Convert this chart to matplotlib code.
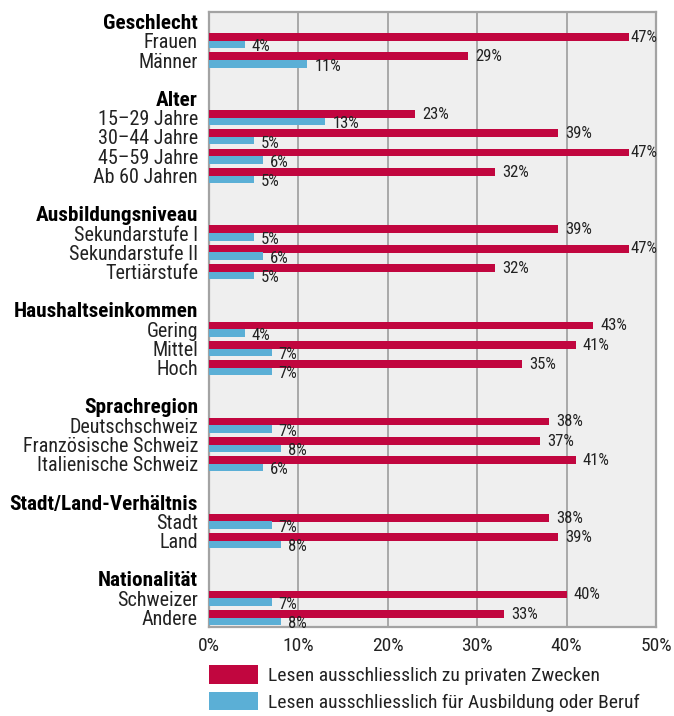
import matplotlib.pyplot as plt
from matplotlib.patches import Patch

groups = ["Geschlecht", "Alter", "Ausbildungsniveau", "Haushaltseinkommen",
          "Sprachregion", "Stadt/Land-Verhältnis", "Nationalität"]
categories = [
    ["Frauen", "Männer"],
    ["15–29 Jahre", "30–44 Jahre", "45–59 Jahre", "Ab 60 Jahren"],
    ["Sekundarstufe I", "Sekundarstufe II", "Tertiärstufe"],
    ["Gering", "Mittel", "Hoch"],
    ["Deutschschweiz", "Französische Schweiz", "Italienische Schweiz"],
    ["Stadt", "Land"],
    ["Schweizer", "Andere"],
]
privat = [
    [47, 29],
    [23, 39, 47, 32],
    [39, 47, 32],
    [43, 41, 35],
    [38, 37, 41],
    [38, 39],
    [40, 33],
]
beruf = [
    [4, 11],
    [13, 5, 6, 5],
    [5, 6, 5],
    [4, 7, 7],
    [7, 8, 6],
    [7, 8],
    [7, 8],
]
series_names = ["Lesen ausschliesslich zu privaten Zwecken",
                "Lesen ausschliesslich für Ausbildung oder Beruf"]
xticks = [0, 10, 20, 30, 40, 50]

RED = "#C1063F"
BLUE = "#5BAFD6"
BG = "#EFEFEF"
LINE = "#A3A3A3"
TXT = "#222222"

plt.rcParams["font.family"] = ["Roboto Condensed", "DejaVu Sans"]

fig = plt.figure(figsize=(6.74, 7.16), dpi=100)
ax = fig.add_axes([209 / 674, 1 - 627 / 716, 447 / 674, 615 / 716])
ax.set_facecolor(BG)

# slot layout: header row, one row per category, blank row between groups
tick_pos, tick_lab, bold = [], [], []
rows = []
slot = 0
for g, (name, cats) in enumerate(zip(groups, categories)):
    tick_pos.append(slot + 0.5)
    tick_lab.append(name)
    bold.append(True)
    slot += 1
    for c, cat in enumerate(cats):
        tick_pos.append(slot + 0.5)
        tick_lab.append(cat)
        bold.append(False)
        rows.append((slot, privat[g][c], beruf[g][c]))
        slot += 1
    if g < len(groups) - 1:
        slot += 1
n_slots = slot

for s, p, b in rows:
    ax.barh(s + 0.31, p, height=0.41, color=RED, zorder=3)
    ax.barh(s + 0.70, b, height=0.38, color=BLUE, zorder=3)
    gap = 0.2 if p >= 46 else 0.8
    ax.text(p + gap, s + 0.33, f"{p}%", va="center", ha="left", fontsize=12,
            color=TXT, zorder=4)
    ax.text(b + 0.8, s + 0.82, f"{b}%", va="center", ha="left", fontsize=12,
            color=TXT, zorder=4)

ax.set_xlim(0, 50)
ax.set_ylim(n_slots, 0)
ax.set_xticks(xticks)
ax.set_xticklabels([f"{t}%" for t in xticks], fontsize=14, color=TXT)
ax.set_yticks(tick_pos)
ax.set_yticklabels(tick_lab, fontsize=14.5, color=TXT)
for lab, b in zip(ax.get_yticklabels(), bold):
    if b:
        lab.set_fontweight("bold")
        lab.set_fontsize(15.3)
        lab.set_color("black")
ax.tick_params(axis="y", length=0, pad=8)
ax.tick_params(axis="x", length=0, pad=7)
ax.grid(axis="x", color=LINE, linewidth=1.3, zorder=1)
for sp in ax.spines.values():
    sp.set_color(LINE)
    sp.set_linewidth(1.6)

handles = [Patch(facecolor=RED, edgecolor="none"), Patch(facecolor=BLUE, edgecolor="none")]
fig.legend(handles, series_names, loc="upper left",
           bbox_to_anchor=(209 / 674, 1 - 665 / 716), frameon=False,
           fontsize=14, handlelength=2.5, handleheight=1.1,
           handletextpad=0.55, labelspacing=0.35, borderpad=0, borderaxespad=0,
           labelcolor=TXT)

fig.savefig("out.png", dpi=100)
